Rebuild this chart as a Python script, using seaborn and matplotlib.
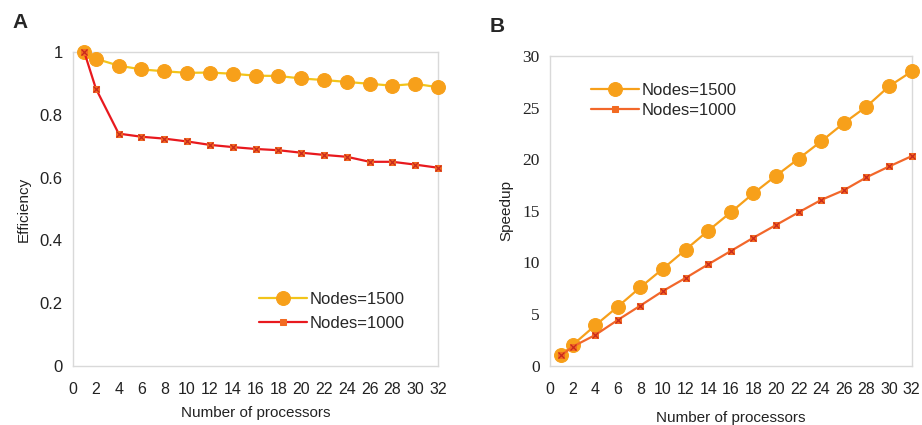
import matplotlib
matplotlib.use("Agg")
import matplotlib.pyplot as plt
import seaborn as sns
import pandas as pd

processors = [1, 2, 4, 6, 8, 10, 12, 14, 16, 18, 20, 22, 24, 26, 28, 30, 32]
eff_1500 = [1.0, 0.98, 0.958, 0.946, 0.94, 0.935, 0.936, 0.932, 0.926, 0.925,
            0.917, 0.912, 0.906, 0.90, 0.894, 0.90, 0.889]
eff_1000 = [1.0, 0.885, 0.741, 0.731, 0.725, 0.716, 0.705, 0.698, 0.692, 0.688,
            0.68, 0.673, 0.667, 0.651, 0.651, 0.642, 0.632]
spd_1500 = [1.0, 2.0, 3.9, 5.72, 7.6, 9.4, 11.24, 13.08, 14.86, 16.7,
            18.4, 20.06, 21.74, 23.5, 25.1, 27.07, 28.5]
spd_1000 = [1.0, 1.84, 2.97, 4.43, 5.82, 7.24, 8.5, 9.82, 11.11, 12.4,
            13.63, 14.86, 16.06, 17.0, 18.25, 19.3, 20.3]
labels = ["Nodes=1500", "Nodes=1000"]
xticks = list(range(0, 33, 2))

sns.set_style("white")
plt.rcParams['font.family'] = ['Liberation Sans', 'DejaVu Sans']

df = pd.DataFrame({"p": processors, "e15": eff_1500, "e10": eff_1000,
                   "s15": spd_1500, "s10": spd_1000})

fig = plt.figure(figsize=(9.22, 4.25), dpi=100)
axA = fig.add_axes([0.0792, 0.1395, 0.396, 0.737])
axB = fig.add_axes([0.5965, 0.1395, 0.3923, 0.7287])

ORANGE = "#F7A01A"
GOLD = "#F2C41A"
RED = "#E8191E"
ORED = "#F2672A"
SQ = "#F26A21"

def draw(ax, y15, y10, line15, line10):
    sns.lineplot(data=df, x="p", y=y15, ax=ax, color=line15, lw=1.6,
                 marker="o", markersize=10, markerfacecolor=ORANGE,
                 markeredgecolor=ORANGE, label=labels[0], clip_on=False, zorder=3)
    sns.lineplot(data=df, x="p", y=y10, ax=ax, color=line10, lw=1.6,
                 marker="s", markersize=5, markerfacecolor=SQ,
                 markeredgecolor=SQ, label=labels[1], clip_on=False, zorder=4)
    ax.plot(df["p"], df[y10], ls="none", marker="x", markersize=4,
            color="#C8281E", mew=0.9, clip_on=False, zorder=5)
    ax.set_xlim(0, 32)
    ax.set_xticks(xticks)
    for s in ax.spines.values():
        s.set_color("#D9D9D9")
        s.set_linewidth(1.0)
    ax.tick_params(axis="x", direction="in", length=3, color="#BFBFBF",
                   labelsize=11.5, pad=12, labelcolor="#222222")
    ax.tick_params(axis="y", direction="out", length=4, color="#BFBFBF",
                   labelsize=12, labelcolor="#222222")

draw(axA, "e15", "e10", GOLD, RED)
axA.set_ylim(0, 1)
axA.set_yticks([0, 0.2, 0.4, 0.6, 0.8, 1.0])
axA.set_yticklabels(["0", "0.2", "0.4", "0.6", "0.8", "1"])
axA.set_ylabel("Efficiency", fontsize=11, color="#222222", labelpad=6)
axA.set_xlabel("Number of processors", fontsize=11, color="#222222", labelpad=6)
axA.legend(loc="lower left", bbox_to_anchor=(0.49, 0.09), frameon=False,
           fontsize=12, handlelength=2.9, handletextpad=0.15, labelspacing=0.55,
           borderaxespad=0)

draw(axB, "s15", "s10", ORANGE, ORED)
axB.set_ylim(0, 30)
axB.set_yticks([0, 5, 10, 15, 20, 25, 30])
axB.tick_params(axis="y", labelsize=12.5)
for t in axB.get_yticklabels():
    t.set_family(['Liberation Serif', 'DejaVu Serif'])
axB.set_ylabel("Speedup", fontsize=11, color="#222222", labelpad=6)
axB.set_xlabel("Number of processors", fontsize=11, color="#222222", labelpad=10)
axB.legend(loc="upper left", bbox_to_anchor=(0.095, 0.935), frameon=False,
           fontsize=12, handlelength=2.9, handletextpad=0.15, labelspacing=0.3,
           borderaxespad=0)

fig.text(0.014, 0.935, "A", fontsize=15, fontweight="bold")
fig.text(0.531, 0.925, "B", fontsize=15, fontweight="bold")

fig.savefig("out.png", dpi=100, facecolor="white")
